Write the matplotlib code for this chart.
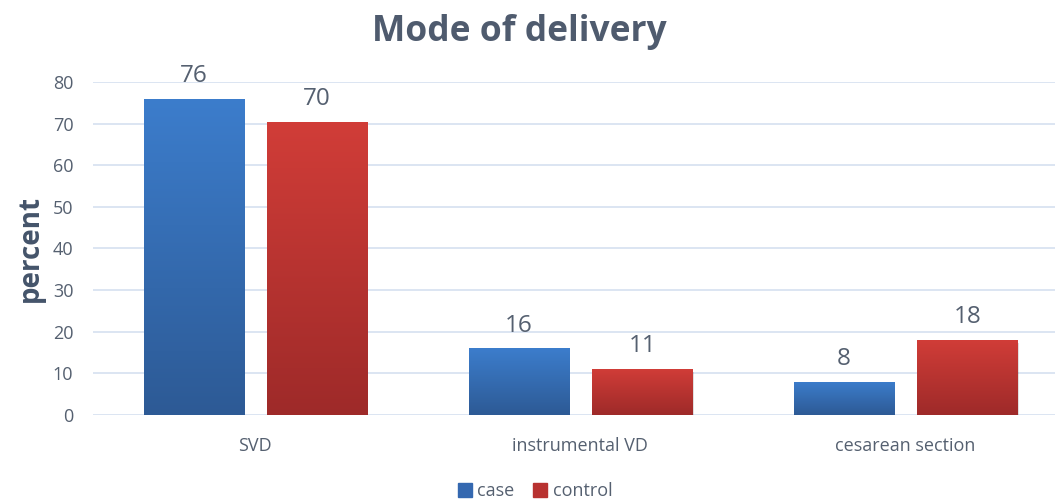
import matplotlib.pyplot as plt
import numpy as np
from matplotlib.colors import LinearSegmentedColormap
from matplotlib.patches import Patch

categories = ["SVD", "instrumental VD", "cesarean section"]
case = [76, 16, 8]
control = [70.4, 11.1, 18.1]
case_labels = ["76", "16", "8"]
control_labels = ["70", "11", "18"]

plt.rcParams['font.family'] = ['Open Sans', 'DejaVu Sans']
text_col = "#556070"

fig = plt.figure(figsize=(10.55, 5), dpi=100)
ax = fig.add_axes([0.088, 0.17, 0.912, 0.666])

x = np.arange(len(categories))
w = 0.308
off = 0.19

blue_cmap = LinearSegmentedColormap.from_list("b", ["#2D5A95", "#3C7DCC"])
red_cmap = LinearSegmentedColormap.from_list("r", ["#9E2A29", "#D13D38"])
grad = np.linspace(0, 1, 256).reshape(-1, 1)

def gradient_bars(xs, vals, cmap):
    bars = ax.bar(xs, vals, w, color="none", zorder=3)
    for b in bars:
        bx, by = b.get_x(), b.get_y()
        bw, bh = b.get_width(), b.get_height()
        # soft shadow under the bar
        ax.bar(bx + bw / 2 + 0.004, bh, bw, bottom=-0.8, color="#000000",
               alpha=0.12, zorder=2)
        im = ax.imshow(grad, extent=[bx, bx + bw, by, by + bh], origin="lower",
                       aspect="auto", cmap=cmap, zorder=3)
        im.set_clip_path(b)
    return bars

gradient_bars(x - off, case, blue_cmap)
gradient_bars(x + off, control, red_cmap)

for xi, v, lab in zip(x - off, case, case_labels):
    ax.text(xi, v + 2.6, lab, ha="center", va="bottom", fontsize=17.5, color=text_col)
for xi, v, lab in zip(x + off, control, control_labels):
    ax.text(xi, v + 2.6, lab, ha="center", va="bottom", fontsize=17.5, color=text_col)

ax.set_xlim(-0.5, 2.46)
ax.set_ylim(0, 80)
ax.set_yticks(range(0, 81, 10))
ax.set_xticks(x)
ax.set_xticklabels(categories)
ax.tick_params(axis="both", length=0, labelsize=13, colors=text_col)
ax.tick_params(axis="x", pad=16)
ax.tick_params(axis="y", pad=14)
ax.grid(axis="y", color="#D6E0F0", linewidth=1.2, zorder=0)
ax.set_axisbelow(True)
for s in ax.spines.values():
    s.set_visible(False)

ax.set_ylabel("percent", fontsize=20, fontweight="bold", color="#44546A", labelpad=6)
fig.text(0.492, 0.937, "Mode of delivery", ha="center", va="center",
         fontsize=25.5, fontweight="bold", color="#4F5B6E")

handles = [Patch(color="#3468B0", label="case"), Patch(color="#B83230", label="control")]
fig.legend(handles=handles, loc="center", bbox_to_anchor=(0.507, 0.018), ncol=2,
           frameon=False, fontsize=13, handlelength=0.8, handleheight=0.8,
           handletextpad=0.3, columnspacing=1.0, labelcolor=text_col)

fig.savefig("out.png", dpi=100)
